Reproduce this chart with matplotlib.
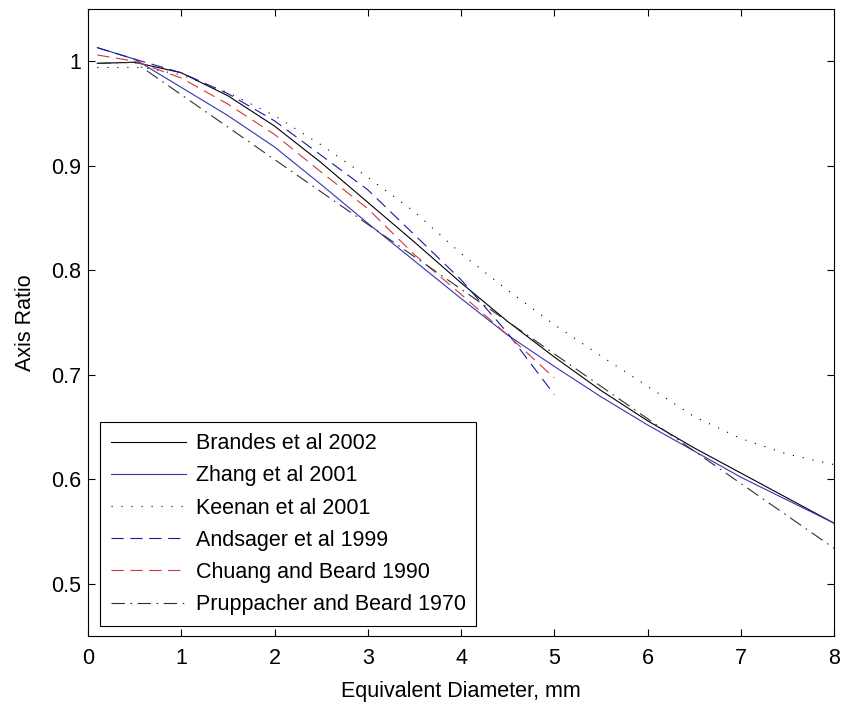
import matplotlib
matplotlib.use("Agg")
import matplotlib.pyplot as plt

# raindrop axis ratio vs equivalent diameter (mm)
d_brandes = [0.1, 0.5, 1, 1.5, 2, 2.5, 3, 3.5, 4, 4.5, 5, 5.5, 6, 6.5, 7, 7.5, 8]
r_brandes = [0.998, 0.999, 0.989, 0.967, 0.938, 0.903, 0.865, 0.827, 0.788,
             0.751, 0.717, 0.685, 0.656, 0.630, 0.606, 0.582, 0.558]

d_zhang = [0.1, 0.5, 1, 1.5, 2, 2.5, 3, 3.5, 4, 4.5, 5, 5.5, 6, 6.5, 7, 7.5, 8]
r_zhang = [1.013, 1.002, 0.975, 0.948, 0.918, 0.882, 0.845, 0.809, 0.773,
           0.738, 0.708, 0.679, 0.652, 0.627, 0.602, 0.580, 0.558]

d_keenan = [0.1, 0.6, 1, 1.5, 2, 2.5, 3, 3.5, 4, 4.5, 5, 5.5, 6, 6.5, 7, 7.5, 8]
r_keenan = [0.994, 0.994, 0.987, 0.970, 0.948, 0.920, 0.889, 0.856, 0.816,
            0.781, 0.748, 0.718, 0.689, 0.660, 0.639, 0.624, 0.614]

d_andsager = [0.1, 0.5, 1, 1.5, 2, 2.5, 3, 3.5, 4, 4.5, 5]
r_andsager = [1.013, 1.002, 0.989, 0.969, 0.943, 0.910, 0.877, 0.834, 0.791,
              0.740, 0.681]

d_chuang = [0.1, 0.5, 1, 1.5, 2, 2.5, 3, 3.5, 4, 4.5, 5]
r_chuang = [1.006, 1.000, 0.984, 0.959, 0.930, 0.894, 0.859, 0.815, 0.777,
            0.738, 0.697]

d_prupp = [0.1, 0.5, 1, 2, 3, 4, 5, 6, 7, 8]
r_prupp = [0.998, 0.999, 0.968, 0.906, 0.844, 0.782, 0.720, 0.658, 0.596, 0.534]

plt.rcParams['font.family'] = ['Liberation Sans', 'DejaVu Sans']
plt.rcParams['font.size'] = 15.5

fig = plt.figure(figsize=(8.42, 7.07), dpi=100)
ax = fig.add_axes([88 / 842, 71 / 707, 746 / 842, 627 / 707])

lw = 0.8
ax.plot(d_brandes, r_brandes, color='k', lw=lw, label='Brandes et al 2002')
ax.plot(d_zhang, r_zhang, color='#3434b8', lw=lw, label='Zhang et al 2001')
ax.plot(d_keenan, r_keenan, color='k', lw=lw, ls=(0, (1, 8)),
        label='Keenan et al 2001')
ax.plot(d_andsager, r_andsager, color='#1a1aa0', lw=lw, ls=(0, (11, 6)),
        label='Andsager et al 1999')
ax.plot(d_chuang, r_chuang, color='#d03838', lw=lw, ls=(0, (11, 6)),
        label='Chuang and Beard 1990')
ax.plot(d_prupp, r_prupp, color='#303030', lw=lw, ls=(0, (12, 5, 1.5, 5)),
        label='Pruppacher and Beard 1970')

ax.set_xlim(0, 8)
ax.set_ylim(0.45, 1.05)
ax.set_xticks(range(0, 9))
ax.set_yticks([0.5, 0.6, 0.7, 0.8, 0.9, 1.0])
ax.set_yticklabels(['0.5', '0.6', '0.7', '0.8', '0.9', '1'])
ax.tick_params(direction='in', top=True, right=True, length=5, width=0.8)
ax.tick_params(axis='x', pad=9)
ax.tick_params(axis='y', pad=5)
for s in ax.spines.values():
    s.set_linewidth(0.8)

ax.set_xlabel('Equivalent Diameter, mm', labelpad=8.5)
ax.set_ylabel('Axis Ratio', labelpad=10.5)

leg = ax.legend(loc='lower left', bbox_to_anchor=(0.016, 0.016),
                borderaxespad=0, fancybox=False, framealpha=1,
                edgecolor='k', handlelength=3.5, handletextpad=0.45,
                borderpad=0.5, labelspacing=0.52)
leg.get_frame().set_linewidth(0.8)

fig.savefig('out.png', dpi=100)
